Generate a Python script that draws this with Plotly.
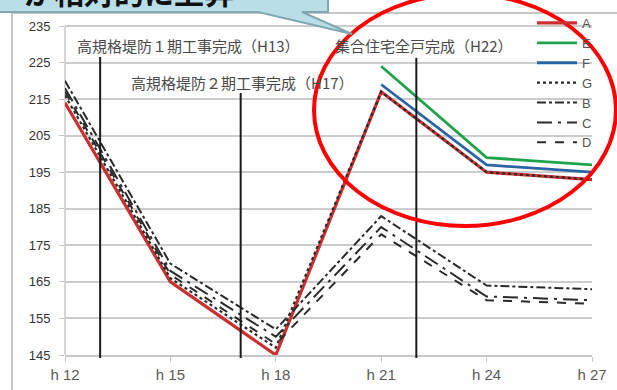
import plotly.graph_objects as go

# --- data -------------------------------------------------------------
years = [12, 15, 18, 21, 24, 27]
year_labels = ["h 12", "h 15", "h 18", "h 21", "h 24", "h 27"]
y_ticks = [145, 155, 165, 175, 185, 195, 205, 215, 225, 235]

series_names = ["A", "E", "F", "G", "B", "C", "D"]
A = [214, 165, 145, 217, 195, 193]
E = [None, None, None, 224, 199, 197]
F = [None, None, None, 219, 197, 195]
G = [216, 166, 147, 217, 195, 193]
B = [220, 170, 152, 183, 164, 163]
C = [218, 168, 150, 180, 161, 160]
D = [217, 167, 148, 178, 160, 159]

event_years = [13, 17, 22]
event_tops = [226.5, 216.7, 226.3]
event_texts = ["高規格堤防１期工事完成（H13）", "高規格堤防２期工事完成（H17）", "集合住宅全戸完成（H22）"]
callout_text = "が相対的に上昇"

# --- styles -----------------------------------------------------------
styles = {
    "A": dict(color="#cc2f2f", width=3.2, dash="solid"),
    "E": dict(color="#1fa24c", width=2.8, dash="solid"),
    "F": dict(color="#2b64a3", width=2.8, dash="solid"),
    "G": dict(color="#2a2a2a", width=2.2, dash="dot"),
    "B": dict(color="#2a2a2a", width=2.0, dash="dashdot"),
    "C": dict(color="#2a2a2a", width=2.0, dash="longdashdot"),
    "D": dict(color="#2a2a2a", width=2.0, dash="dash"),
}
values = {"A": A, "E": E, "F": F, "G": G, "B": B, "C": C, "D": D}

W, H = 617, 390
# pixel frame: the subplot spans the full height down to the x axis,
# with the top gridline (235) sitting 26 px below the page top
PL, PR, PB = 65, 592, 355
Y235 = 26
Y_MIN = 145
Y_MAX = 235 + (Y235 - 0) * (235 - Y_MIN) / (PB - Y235)


def px(x):
    return (x - PL) / (PR - PL)


def py(y):
    return (PB - y) / PB


def yv(v):
    return (v - Y_MIN) / (Y_MAX - Y_MIN)


fig = go.Figure()
for name in series_names:
    fig.add_trace(go.Scatter(
        x=years, y=values[name], name=name, mode="lines",
        line=styles[name], connectgaps=False,
    ))

shapes = []
# chart-area frame
shapes.append(dict(type="rect", xref="paper", yref="paper",
                   x0=px(12), x1=px(640), y0=py(420), y1=py(13),
                   line=dict(color="#b4b4b4", width=1.5), layer="below"))
# value-axis line
shapes.append(dict(type="line", xref="paper", yref="paper",
                   x0=0, x1=0, y0=0, y1=yv(235),
                   line=dict(color="#c8c8c8", width=1.5), layer="below"))
# event marker lines
for yr, top in zip(event_years, event_tops):
    shapes.append(dict(type="line", xref="x", yref="paper",
                       x0=yr, x1=yr, y0=py(358), y1=yv(top),
                       line=dict(color="#1a1a1a", width=2)))
# highlight ellipse
shapes.append(dict(type="circle", xref="paper", yref="paper",
                   x0=px(314), x1=px(616), y0=py(226), y1=py(-6),
                   line=dict(color="#ff0000", width=4)))
# callout box with pointer
pts = [(-5, -40), (328, -40), (328, 12), (302, 12), (352, 34), (258, 12), (-5, 12)]
path = "M " + " L ".join(f"{px(x):.5f},{py(y):.5f}" for x, y in pts) + " Z"
shapes.append(dict(type="path", xref="paper", yref="paper", path=path,
                   fillcolor="#b9dee8", line=dict(color="#7fa8b3", width=2)))

annotations = []
for txt, cx, cy in zip(event_texts, [188, 242, 424], [45, 82, 45]):
    annotations.append(dict(text=txt, xref="paper", yref="paper",
                            x=px(cx), y=py(cy), showarrow=False,
                            xanchor="center", yanchor="middle",
                            font=dict(family="Noto Sans CJK JP", size=15, color="#4a4a4a")))
annotations.append(dict(text=callout_text, xref="paper", yref="paper",
                        x=px(22), y=py(15), showarrow=False,
                        xanchor="left", yanchor="bottom",
                        font=dict(family="Noto Sans CJK JP", size=30, color="#111111",
                                  weight="bold")))

fig.update_layout(
    width=W, height=H,
    margin=dict(l=PL, r=W - PR, t=0, b=H - PB),
    paper_bgcolor="white", plot_bgcolor="white",
    showlegend=True,
    legend=dict(x=px(532), y=py(8), xanchor="left", yanchor="top",
                bgcolor="rgba(0,0,0,0)", tracegroupgap=0, itemwidth=40,
                font=dict(family="Liberation Sans", size=13, color="#555555")),
    xaxis=dict(range=[12, 27], tickvals=years, ticktext=year_labels,
               automargin=False,
               showgrid=False, zeroline=False, showline=True,
               linecolor="#c8c8c8", linewidth=1.5,
               ticks="outside", ticklen=5, tickcolor="#c8c8c8",
               ticklabelstandoff=0,
               tickfont=dict(family="Liberation Sans", size=15, color="#5a5a5a")),
    yaxis=dict(range=[Y_MIN, Y_MAX], tickvals=y_ticks, automargin=False,
               showgrid=True, gridcolor="#cccccc", gridwidth=1.5,
               zeroline=False, showline=False,
               ticks="outside", ticklen=5, tickcolor="#c8c8c8",
               ticklabelstandoff=6,
               tickfont=dict(family="Liberation Sans", size=13, color="#333333")),
    shapes=shapes, annotations=annotations,
)

fig.write_html("out.html")
